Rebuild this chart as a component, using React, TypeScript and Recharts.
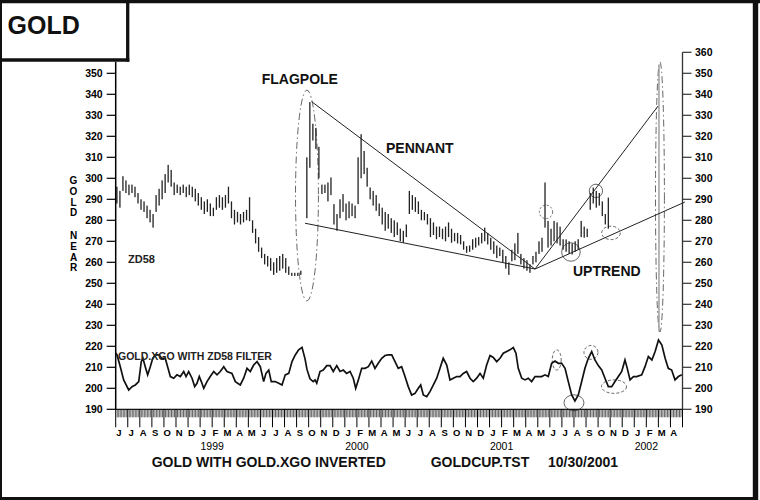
import React from 'react';
import {
  ComposedChart,
  Bar,
  Line,
  XAxis,
  YAxis,
  ReferenceLine,
  ReferenceArea,
} from 'recharts';

const FONT = '"Liberation Sans", Arial, Helvetica, sans-serif';

// month initials, Jun 1998 .. Apr 2002 (x unit = months since 1 Jun 1998)
const MONTHS = [
  'J', 'J', 'A', 'S', 'O', 'N', 'D',
  'J', 'F', 'M', 'A', 'M', 'J', 'J', 'A', 'S', 'O', 'N', 'D',
  'J', 'F', 'M', 'A', 'M', 'J', 'J', 'A', 'S', 'O', 'N', 'D',
  'J', 'F', 'M', 'A', 'M', 'J', 'J', 'A', 'S', 'O', 'N', 'D',
  'J', 'F', 'M', 'A',
];
const YEARS = ['1999', '2000', '2001', '2002'];
const LEFT_TICKS = [190, 200, 210, 220, 230, 240, 250, 260, 270, 280, 290, 300, 310, 320, 330, 340, 350];
const RIGHT_TICKS = [...LEFT_TICKS, 360];

// gold high/low, one bar per quarter month starting early June 1998
const BAR_START = 0.1;
const BAR_STEP = 0.25;
const PRICE_LO = [
  288, 286, 294, 293, 292, 293, 291, 288, 285, 284,
  281, 279, 276.5, 284, 287, 290, 293, 298, 296, 292,
  293, 292, 293, 291, 292, 291, 289, 287, 285, 283,
  284, 282, 282, 285, 286, 285, 286, 288, 281, 278,
  279, 278, 279, 280, 279.6, 274, 269, 265, 262, 259,
  258, 256, 254, 255, 256, 257, 255, 254, 253.5, 253.5,
  253.5, 254, null, 281, 305, 318, 314, 300, 292.5, 293,
  289, 292, 278, 275, 281, 284, 280, 281, 282, 281,
  287.7, 300, 302, 296, 290, 287, 284.5, 282, 278, 275,
  276, 274, 272, 273, 270, 269.3, 272, 283, 285, 284,
  283, 280, 280, 278, 272, 273, 271, 272, 271, 270,
  272, 269.3, 270, 269, 268.5, 266, 264.5, 265, 266, 267,
  268, 269, 270, 268.5, 266, 264, 262, 263, 260, 257,
  254, 260.5, 261, 264, 259, 257, 256, 255, 259, 260,
  264, 265, 276.5, 267, 268, 270, 269, 268, 266, 265,
  264, 263.7, 265, 266, 272, 271.7, 272, 285, 288, 286,
  287, 282, 278, 276,
];
const PRICE_HI = [
  296, 294, 301, 299, 297, 297, 296, 293, 290, 289,
  287, 285, 283, 292, 295, 299, 302, 306.4, 304, 298,
  297, 296, 297, 296, 297, 296, 295, 293, 291, 289,
  290, 288, 286, 291, 292, 291, 292, 296, 289, 285,
  284, 283, 284, 285, 291, 280, 276, 272, 267, 264,
  263, 262, 260, 262, 263, 264, 262, 258, 255, 255,
  255, 256, null, 310, 336.3, 326, 324, 315, 297, 297,
  298, 300.4, 287.7, 283, 290, 292.5, 288, 289, 288, 287,
  310, 321, 313, 305, 295.6, 294, 292, 288, 286, 284,
  283, 281, 280, 279, 276, 275, 278, 294, 292, 291,
  289, 285, 284, 283, 281, 279, 277, 277, 276, 277,
  279, 276, 274, 274, 273, 270, 267.7, 268, 271, 271.7,
  272, 274, 276.5, 274, 271.7, 270, 268, 267, 266, 263,
  260, 266, 269, 274, 264, 262, 261, 259, 263, 265,
  270, 271.7, 298, 279.7, 276, 279.7, 279, 277, 271, 270.9,
  270, 269, 270, 271, 279.7, 277, 276, 293, 295.6, 294,
  293, 289, 283, 290.8,
];

// projected spike, early 2002
const SPIKE_T = [45.05];
const SPIKE_LO = [227];
const SPIKE_HI = [354];

// GOLD.XGO with ZD58 filter (inverted), right scale
const OSC_T = [
  0, 0.11, 0.38, 0.66, 1.08, 1.35, 1.63, 1.91, 2.12, 2.26, 2.45, 2.65, 2.87, 3.07, 3.28, 3.57, 3.84, 4.11,
  4.34, 4.53, 4.81, 5.08, 5.36, 5.64, 5.83, 6.05, 6.33, 6.55, 6.74, 6.93, 7.1, 7.3, 7.57, 7.84, 8.13, 8.4,
  8.67, 8.96, 9.23, 9.64, 9.92, 10.33, 10.61, 10.89, 11.16, 11.44, 11.72, 11.99, 12.27, 12.46, 12.69, 12.9,
  13.23, 13.52, 13.79, 14.06, 14.35, 14.62, 14.89, 15.17, 15.45, 15.7, 15.86, 16.11, 16.38, 16.53, 16.67,
  16.94, 17.21, 17.5, 17.77, 18.04, 18.33, 18.6, 18.87, 19.15, 19.43, 19.7, 19.9, 20.12, 20.4, 20.67, 20.95,
  21.23, 21.5, 21.77, 22.06, 22.33, 22.6, 22.89, 23.16, 23.43, 23.71, 23.99, 24.26, 24.54, 24.82, 25.09,
  25.29, 25.51, 25.79, 26.06, 26.34, 26.62, 26.89, 27.16, 27.45, 27.72, 27.99, 28.28, 28.55, 28.82, 29.1,
  29.38, 29.65, 29.93, 30.21, 30.48, 30.76, 31.04, 31.31, 31.59, 31.87, 32.14, 32.42, 32.69, 32.97, 33.19,
  33.38, 33.67, 33.94, 34.21, 34.49, 34.77, 35.04, 35.32, 35.6, 35.87, 36.15, 36.43, 36.7, 36.98, 37.26,
  37.53, 37.81, 38.08, 38.36, 38.64, 38.91, 39.19, 39.47, 39.74, 40.02, 40.3, 40.57, 40.85, 41.13, 41.4,
  41.68, 41.96, 42.23, 42.42, 42.65, 42.93, 43.2, 43.62, 43.89, 44.17, 44.46, 44.73, 45.01, 45.29, 45.56,
  45.82, 46.1, 46.38, 46.66, 46.94,
];
const OSC_V = [
  216.8, 215.9, 210.3, 204, 199.2, 200.8, 201.6, 203.2, 212.7, 214.3, 210.3, 206.4, 210.3, 214.3, 215.9, 215.9, 214.3, 214.3,
  209.5, 205.6, 204.8, 206.4, 205.6, 208, 205.6, 208, 204.8, 200.8, 202.4, 205.6, 203.2, 200, 203.2, 205.6, 208, 206.4,
  208, 210.3, 208, 207.1, 203.2, 201.6, 204.8, 209.5, 208, 211.1, 212.7, 210.3, 203.2, 207.1, 208.7, 203.2,
  203.2, 202.4, 201.6, 206.4, 207.1, 212.7, 215.9, 218.3, 219.5, 214, 209, 204.5, 203.2, 204, 202.4,
  208, 208.7, 210.8, 210.8, 208, 210.8, 208, 208.7, 207.1, 208, 204.8, 200, 204, 209.5, 209.5, 210.3,
  213, 209.5, 211.9, 214.3, 215.6, 215.9, 215.9, 212.7, 209.5, 210.3, 205.6, 200.8, 196.8, 197.6, 200,
  201.6, 196.8, 196, 198.4, 201.6, 204.8, 209.5, 214.3, 211.1, 204, 204.8, 205.6, 205.6, 207.1, 208,
  204.8, 203.2, 204.8, 207.1, 204.8, 211.1, 215.6, 214.7, 212.7, 214.3, 216.7, 217.5, 218.3, 219.4, 216.7,
  209.5, 204.8, 204, 204.8, 203.2, 205.6, 205.6, 205.6, 206.4, 205.6, 211.9, 213, 211.9, 211.9, 209.5,
  203.2, 196.8, 194, 196.8, 203.2, 209.5, 214.3, 217.5, 213.5, 210.8, 208.7, 204.8, 200.8, 200.8, 203.2,
  205.6, 208, 213.5, 209.5, 204, 205.6, 205.6, 206.4, 210.3, 215.1, 213.5, 217.5, 223, 220.6, 214.3,
  209.5, 208.7, 204, 205.6, 206.4,
];

// drawn trendlines (month, price)
const TREND_LINES = [
  [[16.25, 336.5], [34.77, 256.8]],
  [[15.7, 278.6], [34.77, 256.8]],
  [[34.77, 256.8], [44.97, 334.4]],
  [[34.77, 256.8], [47.2, 288.7]],
];

// hand-drawn circles: centre (month, value), radii in months / value units
const PRICE_RINGS = [
  { cx: 15.86, cy: 291.8, rx: 0.95, ry: 50.2, dash: '7 3 1.5 3' },
  { cx: 45.13, cy: 291.1, rx: 0.37, ry: 64.3, dash: '7 3 1.5 3' },
  { cx: 35.68, cy: 284, rx: 0.55, ry: 3.2, dash: '2 2' },
  { cx: 39.82, cy: 294, rx: 0.55, ry: 3.2, dash: '' },
  { cx: 37.75, cy: 264.9, rx: 0.77, ry: 4.4, dash: '' },
  { cx: 41.07, cy: 274, rx: 0.77, ry: 3.2, dash: '3 2' },
];
const OSC_RINGS = [
  { cx: 36.57, cy: 213.5, rx: 0.37, ry: 4.8, dash: '3 2' },
  { cx: 38.0, cy: 193.1, rx: 0.83, ry: 3.8, dash: '' },
  { cx: 39.41, cy: 217.1, rx: 0.58, ry: 3.3, dash: '3 2' },
  { cx: 41.32, cy: 200.8, rx: 1.04, ry: 3.2, dash: '3 2' },
];

const NEAR_LETTERS = ['G', 'O', 'L', 'D', 'N', 'E', 'A', 'R'];
const NEAR_Y = [184.4, 195, 205.6, 216.2, 239.4, 250, 260.5, 271];

const barData = [
  ...PRICE_LO.map((lo, i) => ({
    t: BAR_START + i * BAR_STEP,
    hl: lo == null ? null : [lo, PRICE_HI[i]],
    tone: 'dark',
  })).filter((r) => r.hl),
  ...SPIKE_T.map((t, i) => ({ t, hl: [SPIKE_LO[i], SPIKE_HI[i]], tone: 'light' })),
];
const oscData = OSC_T.map((t, i) => ({ t, osc: OSC_V[i] }));

const X_TICKS = Array.from({ length: MONTHS.length * 8 + 1 }, (_, k) => k / 8);

const HLBar = (p: any) => {
  if (p.x == null || p.y == null) return null;
  const cx = p.x + p.width / 2;
  const top = Math.min(p.y, p.y + p.height);
  const h = Math.max(Math.abs(p.height), 1);
  const light = p.payload && p.payload.tone === 'light';
  const w = light ? 1.4 : 1.3;
  return <rect x={cx - w / 2} y={top} width={w} height={h} fill={light ? '#9a9a9a' : '#222'} />;
};

const AxisTick = (p: any) => {
  const { x, y, payload } = p;
  const k = Math.round(payload.value * 8);
  if (k % 8 !== 0) {
    return <line x1={x} x2={x} y1={y} y2={y + 8} stroke="#3a3a3a" strokeWidth={0.8} />;
  }
  const m = k / 8;
  const yearIdx = m % 12 === 8 ? (m - 8) / 12 : -1;
  return (
    <g>
      <line x1={x} x2={x} y1={y} y2={y + 18} stroke="#000" strokeWidth={1} />
      {m < MONTHS.length && (
        <text x={x + 3.3} y={y + 26.5} textAnchor="middle" fontSize={9.5} fontWeight="bold" fontFamily={FONT} fill="#000">
          {MONTHS[m]}
        </text>
      )}
      {yearIdx >= 0 && yearIdx < YEARS.length && (
        <text x={x} y={y + 40.7} textAnchor="middle" fontSize={10.5} fontFamily={FONT} fill="#000">
          {YEARS[yearIdx]}
        </text>
      )}
    </g>
  );
};

const ringShape = (dash: string) => (p: any) => (
  <ellipse
    cx={p.x + p.width / 2}
    cy={p.y + p.height / 2}
    rx={Math.abs(p.width) / 2}
    ry={Math.abs(p.height) / 2}
    fill="none"
    stroke="#555"
    strokeWidth={0.9}
    strokeDasharray={dash || undefined}
  />
);

const axisTickStyle = { fill: '#000', fontSize: 10.5, fontWeight: 'bold', fontFamily: FONT };

export default function App() {
  return (
    <div style={{ position: 'absolute', left: 0, top: 0, width: 760, height: 500, background: '#fff', fontFamily: FONT }}>
      <ComposedChart
        width={760}
        height={500}
        data={barData}
        margin={{ top: 52.3, right: 37.5, bottom: 50.7, left: 75.7 }}
      >
        <XAxis
          type="number"
          dataKey="t"
          domain={[0, 47]}
          ticks={X_TICKS}
          interval={0}
          allowDataOverflow
          height={40}
          tickSize={0}
          tickMargin={0}
          tickLine={false}
          axisLine={{ stroke: '#000', strokeWidth: 1.3 }}
          tick={(p: any) => <AxisTick {...p} />}
        />
        <YAxis
          yAxisId="p"
          orientation="left"
          domain={[190, 360]}
          ticks={LEFT_TICKS}
          interval={0}
          allowDataOverflow
          width={40}
          axisLine={false}
          tickLine={{ stroke: '#000', strokeWidth: 1.2 }}
          tickSize={9}
          tickMargin={4}
          tick={axisTickStyle}
        />
        <YAxis
          yAxisId="o"
          orientation="right"
          domain={[190, 360]}
          ticks={RIGHT_TICKS}
          interval={0}
          allowDataOverflow
          width={40}
          axisLine={{ stroke: '#333', strokeWidth: 1.3 }}
          tickLine={{ stroke: '#333', strokeWidth: 1.2 }}
          tickSize={9}
          tickMargin={3.5}
          tick={axisTickStyle}
        />
        <ReferenceLine
          yAxisId="p"
          segment={[{ x: 0, y: 190 }, { x: 0, y: 355.5 }]}
          stroke="#000"
          strokeWidth={1.5}
          ifOverflow="visible"
        />
        {TREND_LINES.map((s, i) => (
          <ReferenceLine
            key={`tr-${i}`}
            yAxisId="p"
            segment={[{ x: s[0][0], y: s[0][1] }, { x: s[1][0], y: s[1][1] }]}
            stroke="#222"
            strokeWidth={1}
            ifOverflow="visible"
          />
        ))}
        <Bar dataKey="hl" yAxisId="p" barSize={2} shape={HLBar} isAnimationActive={false} />
        <Line
          data={oscData}
          dataKey="osc"
          yAxisId="o"
          type="linear"
          stroke="#111"
          strokeWidth={1.7}
          dot={false}
          activeDot={false}
          isAnimationActive={false}
        />
        {PRICE_RINGS.map((r, i) => (
          <ReferenceArea
            key={`pr-${i}`}
            yAxisId="p"
            x1={r.cx - r.rx}
            x2={r.cx + r.rx}
            y1={r.cy - r.ry}
            y2={r.cy + r.ry}
            ifOverflow="visible"
            shape={ringShape(r.dash)}
          />
        ))}
        {OSC_RINGS.map((r, i) => (
          <ReferenceArea
            key={`or-${i}`}
            yAxisId="o"
            x1={r.cx - r.rx}
            x2={r.cx + r.rx}
            y1={r.cy - r.ry}
            y2={r.cy + r.ry}
            ifOverflow="visible"
            shape={ringShape(r.dash)}
          />
        ))}
      </ComposedChart>

      <svg
        width={760}
        height={500}
        style={{ position: 'absolute', left: 0, top: 0, pointerEvents: 'none' }}
        fontFamily={FONT}
      >
        {/* frame */}
        <line x1={0} x2={760} y1={1.6} y2={1.6} stroke="#111" strokeWidth={3.3} />
        <line x1={755.5} x2={755.5} y1={0} y2={500} stroke="#111" strokeWidth={5.4} />
        <line x1={1} x2={1} y1={0} y2={500} stroke="#111" strokeWidth={2} />
        <line x1={0} x2={758} y1={498.5} y2={498.5} stroke="#111" strokeWidth={3} />
        {/* title box */}
        <rect x={0} y={0} width={127.7} height={60} fill="#fff" />
        <line x1={127.7} x2={127.7} y1={0} y2={61.7} stroke="#111" strokeWidth={3.3} />
        <line x1={0} x2={129.3} y1={60} y2={60} stroke="#111" strokeWidth={3.3} />
        <line x1={1} x2={1} y1={0} y2={61} stroke="#111" strokeWidth={2} />
        <line x1={0} x2={129} y1={1.6} y2={1.6} stroke="#111" strokeWidth={3.3} />
        <text x={7.5} y={34.3} fontSize={25} fontWeight="bold" fill="#111">GOLD</text>

        {NEAR_LETTERS.map((c, i) => (
          <text key={`n-${i}`} x={73.5} y={NEAR_Y[i]} textAnchor="middle" fontSize={10} fontWeight="bold" fill="#000">
            {c}
          </text>
        ))}

        <text x={261.7} y={84} fontSize={14} fontWeight="bold" fill="#111">FLAGPOLE</text>
        <text x={386} y={153.3} fontSize={14} fontWeight="bold" fill="#111">PENNANT</text>
        <text x={573} y={276} fontSize={14} fontWeight="bold" fill="#111">UPTREND</text>
        <text x={128} y={263.3} fontSize={11} fontWeight="bold" fill="#222">ZD58</text>
        <text x={118} y={360} fontSize={10.5} fontWeight="bold" fill="#222">GOLD.XGO WITH ZD58 FILTER</text>

        <text x={151.7} y={466.7} fontSize={14} fontWeight="bold" fill="#111">GOLD WITH GOLD.XGO INVERTED</text>
        <text x={430.7} y={466.7} fontSize={14} fontWeight="bold" fill="#111">GOLDCUP.TST</text>
        <text x={548} y={466.7} fontSize={14} fontWeight="bold" fill="#111">10/30/2001</text>
      </svg>
    </div>
  );
}
